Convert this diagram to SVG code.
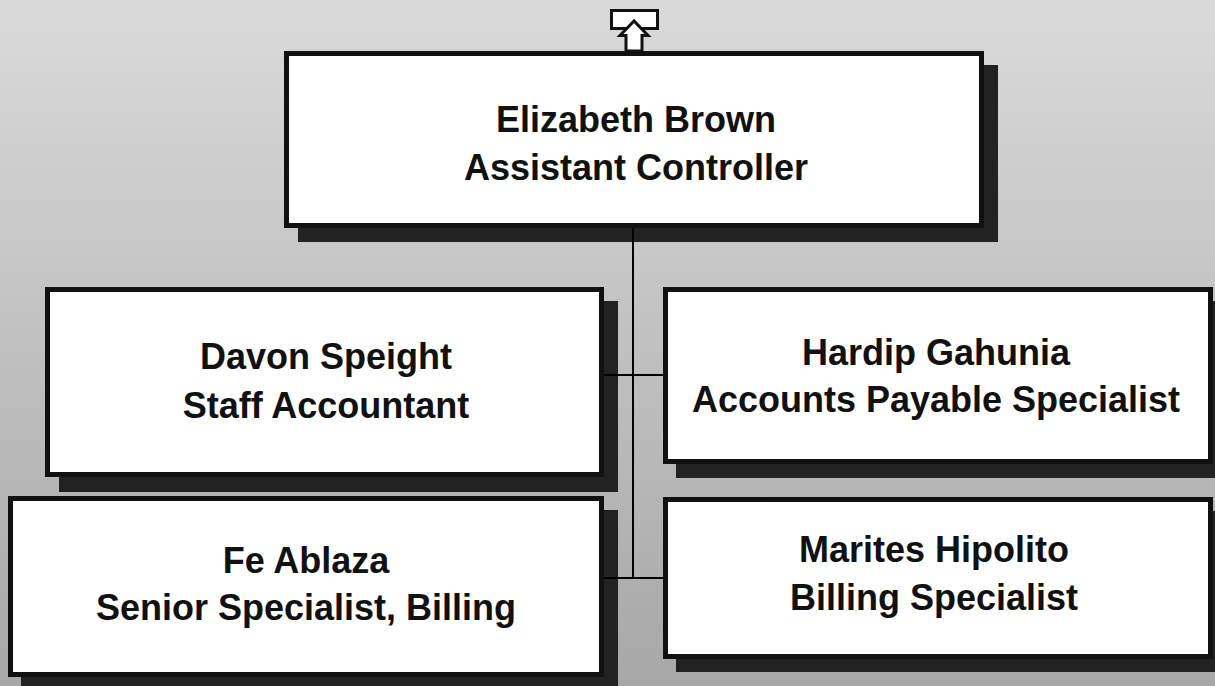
<svg xmlns="http://www.w3.org/2000/svg" width="1215" height="686" viewBox="0 0 1215 686">
  <defs>
    <linearGradient id="bg" x1="0" y1="0" x2="0" y2="1">
      <stop offset="0" stop-color="#dadada"/>
      <stop offset="1" stop-color="#a7a7a7"/>
    </linearGradient>
  </defs>
  <style>
    .shadow { fill: #222222; }
    .box { fill: #ffffff; stroke: #111111; stroke-width: 5; }
    .conn { stroke: #000000; stroke-width: 2; fill: none; }
    .lbl { font-family: "Liberation Sans", Arial, sans-serif; font-weight: bold; font-size: 36px; fill: #111111; text-anchor: middle; }
    .icon { fill: #ffffff; stroke: #111111; stroke-width: 3; stroke-linejoin: miter; }
  </style>
  <rect x="0" y="0" width="1215" height="686" fill="url(#bg)"/>

  <g id="shadows">
    <rect class="shadow" x="298" y="65" width="700" height="177"/>
    <rect class="shadow" x="59" y="301" width="559" height="191"/>
    <rect class="shadow" x="676" y="301" width="551" height="177"/>
    <rect class="shadow" x="21" y="510" width="597" height="181"/>
    <rect class="shadow" x="676" y="511" width="551" height="161"/>
  </g>

  <g id="connectors">
    <line class="conn" x1="633" y1="228" x2="633" y2="578"/>
    <line class="conn" x1="604" y1="375" x2="663" y2="375"/>
    <line class="conn" x1="604" y1="578" x2="663" y2="578"/>
  </g>

  <g id="node-brown">
    <rect class="box" x="286.5" y="53.5" width="695" height="172"/>
    <text class="lbl" x="636" y="132">Elizabeth Brown</text>
    <text class="lbl" x="636" y="180">Assistant Controller</text>
  </g>

  <g id="up-icon">
    <rect class="icon" x="611.5" y="10.5" width="46" height="18"/>
    <polygon class="icon" points="634,21 620,35.5 626,35.5 626,51 642,51 642,35.5 648,35.5"/>
  </g>

  <g id="node-speight">
    <rect class="box" x="47.5" y="289.5" width="554" height="185"/>
    <text class="lbl" x="326" y="369">Davon Speight</text>
    <text class="lbl" x="326" y="418">Staff Accountant</text>
  </g>

  <g id="node-gahunia">
    <rect class="box" x="665.5" y="289.5" width="545" height="172"/>
    <text class="lbl" x="936" y="365">Hardip Gahunia</text>
    <text class="lbl" x="936" y="412">Accounts Payable Specialist</text>
  </g>

  <g id="node-ablaza">
    <rect class="box" x="10.5" y="498.5" width="591" height="176"/>
    <text class="lbl" x="306" y="573">Fe Ablaza</text>
    <text class="lbl" x="306" y="620">Senior Specialist, Billing</text>
  </g>

  <g id="node-hipolito">
    <rect class="box" x="665.5" y="499.5" width="545" height="157"/>
    <text class="lbl" x="934" y="562">Marites Hipolito</text>
    <text class="lbl" x="934" y="610">Billing Specialist</text>
  </g>
</svg>
